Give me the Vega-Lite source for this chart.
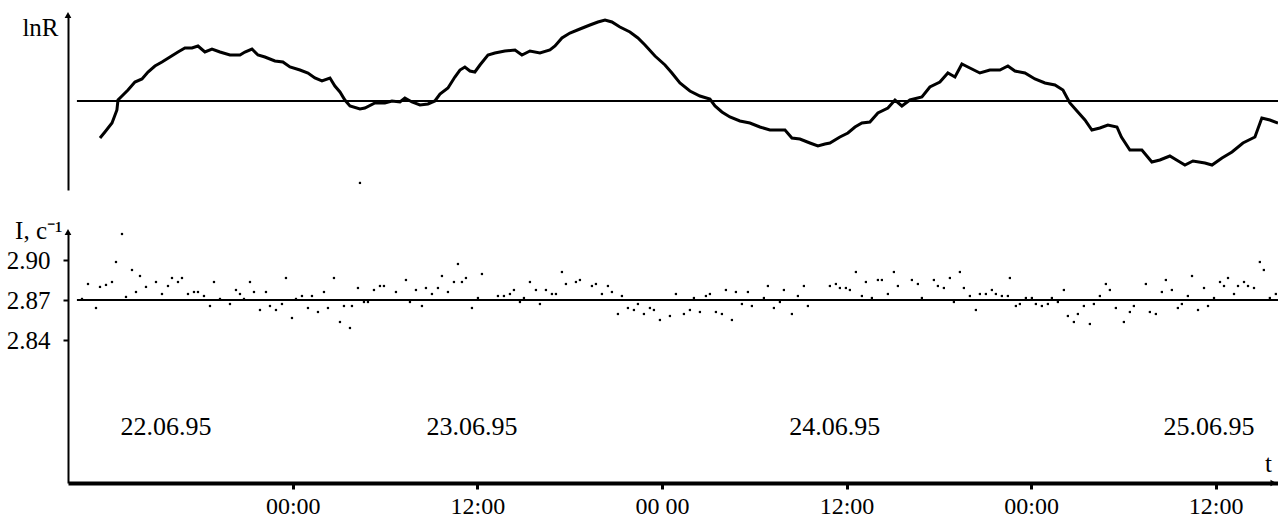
{
  "$schema": "https://vega.github.io/schema/vega-lite/v6.json",
  "background": "white",
  "autosize": {"type": "pad"},
  "padding": {"left": 6, "top": 12, "right": 0, "bottom": 0},
  "bounds": "flush",
  "spacing": 42,
  "config": {
    "view": {"stroke": null},
    "font": "Liberation Serif",
    "axis": {"domainColor": "black", "tickColor": "black", "labelColor": "black", "titleColor": "black", "labelFont": "Liberation Serif", "titleFont": "Liberation Serif", "grid": false, "titleFontWeight": "normal", "labelFlush": false}
  },
  "resolve": {"scale": {"x": "independent", "y": "independent"}},
  "datasets": {
    "lnr": [
      {"h": -12.53, "lnR": -0.37}, {"h": -12.21, "lnR": -0.31}, {"h": -11.75, "lnR": -0.22}, {"h": -11.43, "lnR": -0.09}, {"h": -11.36, "lnR": 0.01},
      {"h": -11.10, "lnR": 0.05}, {"h": -10.71, "lnR": 0.11}, {"h": -10.26, "lnR": 0.19}, {"h": -9.80, "lnR": 0.22}, {"h": -9.41, "lnR": 0.29},
      {"h": -8.96, "lnR": 0.35}, {"h": -8.50, "lnR": 0.39}, {"h": -7.98, "lnR": 0.44}, {"h": -7.46, "lnR": 0.49}, {"h": -7.01, "lnR": 0.53},
      {"h": -6.55, "lnR": 0.53}, {"h": -6.16, "lnR": 0.55}, {"h": -5.71, "lnR": 0.49}, {"h": -5.25, "lnR": 0.52}, {"h": -4.73, "lnR": 0.49},
      {"h": -4.08, "lnR": 0.46}, {"h": -3.43, "lnR": 0.46}, {"h": -3.11, "lnR": 0.49}, {"h": -2.65, "lnR": 0.52}, {"h": -2.26, "lnR": 0.46},
      {"h": -1.81, "lnR": 0.44}, {"h": -1.16, "lnR": 0.40}, {"h": -0.64, "lnR": 0.39}, {"h": -0.18, "lnR": 0.34}, {"h": 0.47, "lnR": 0.31},
      {"h": 0.99, "lnR": 0.28}, {"h": 1.44, "lnR": 0.23}, {"h": 1.90, "lnR": 0.20}, {"h": 2.42, "lnR": 0.23}, {"h": 2.74, "lnR": 0.15},
      {"h": 3.07, "lnR": 0.09}, {"h": 3.39, "lnR": 0.01}, {"h": 3.72, "lnR": -0.05}, {"h": 4.37, "lnR": -0.08}, {"h": 4.69, "lnR": -0.07},
      {"h": 5.34, "lnR": -0.02}, {"h": 5.99, "lnR": -0.02}, {"h": 6.45, "lnR": 0.00}, {"h": 6.97, "lnR": -0.01}, {"h": 7.29, "lnR": 0.03},
      {"h": 7.75, "lnR": -0.01}, {"h": 8.27, "lnR": -0.04}, {"h": 8.79, "lnR": -0.03}, {"h": 9.24, "lnR": 0.00}, {"h": 9.57, "lnR": 0.07},
      {"h": 10.09, "lnR": 0.13}, {"h": 10.54, "lnR": 0.24}, {"h": 10.87, "lnR": 0.31}, {"h": 11.19, "lnR": 0.34}, {"h": 11.52, "lnR": 0.30},
      {"h": 11.84, "lnR": 0.29}, {"h": 12.17, "lnR": 0.36}, {"h": 12.69, "lnR": 0.46}, {"h": 13.14, "lnR": 0.48}, {"h": 13.79, "lnR": 0.50},
      {"h": 14.45, "lnR": 0.51}, {"h": 14.90, "lnR": 0.46}, {"h": 15.42, "lnR": 0.50}, {"h": 16.07, "lnR": 0.48}, {"h": 16.72, "lnR": 0.51},
      {"h": 17.05, "lnR": 0.55}, {"h": 17.50, "lnR": 0.63}, {"h": 18.02, "lnR": 0.68}, {"h": 18.67, "lnR": 0.72}, {"h": 19.32, "lnR": 0.76},
      {"h": 19.84, "lnR": 0.79}, {"h": 20.30, "lnR": 0.81}, {"h": 20.75, "lnR": 0.79}, {"h": 21.27, "lnR": 0.74}, {"h": 21.92, "lnR": 0.69},
      {"h": 22.44, "lnR": 0.63}, {"h": 22.90, "lnR": 0.56}, {"h": 23.55, "lnR": 0.45}, {"h": 24.20, "lnR": 0.36}, {"h": 24.65, "lnR": 0.28},
      {"h": 25.17, "lnR": 0.18}, {"h": 25.82, "lnR": 0.10}, {"h": 26.47, "lnR": 0.05}, {"h": 27.12, "lnR": 0.02}, {"h": 27.45, "lnR": -0.05},
      {"h": 27.90, "lnR": -0.11}, {"h": 28.42, "lnR": -0.16}, {"h": 29.07, "lnR": -0.20}, {"h": 29.72, "lnR": -0.22}, {"h": 30.37, "lnR": -0.26},
      {"h": 31.02, "lnR": -0.29}, {"h": 32.00, "lnR": -0.29}, {"h": 32.45, "lnR": -0.37}, {"h": 32.97, "lnR": -0.38}, {"h": 33.62, "lnR": -0.42},
      {"h": 34.14, "lnR": -0.45}, {"h": 34.60, "lnR": -0.43}, {"h": 34.92, "lnR": -0.42}, {"h": 35.57, "lnR": -0.36}, {"h": 36.09, "lnR": -0.32},
      {"h": 36.55, "lnR": -0.26}, {"h": 37.00, "lnR": -0.22}, {"h": 37.52, "lnR": -0.21}, {"h": 38.04, "lnR": -0.12}, {"h": 38.69, "lnR": -0.07},
      {"h": 39.15, "lnR": 0.01}, {"h": 39.60, "lnR": -0.05}, {"h": 40.12, "lnR": 0.01}, {"h": 40.90, "lnR": 0.04}, {"h": 41.42, "lnR": 0.14},
      {"h": 42.07, "lnR": 0.19}, {"h": 42.59, "lnR": 0.28}, {"h": 43.05, "lnR": 0.24}, {"h": 43.50, "lnR": 0.37}, {"h": 44.02, "lnR": 0.33},
      {"h": 44.67, "lnR": 0.28}, {"h": 45.32, "lnR": 0.31}, {"h": 45.97, "lnR": 0.31}, {"h": 46.49, "lnR": 0.35}, {"h": 46.95, "lnR": 0.30},
      {"h": 47.60, "lnR": 0.28}, {"h": 48.25, "lnR": 0.22}, {"h": 48.90, "lnR": 0.18}, {"h": 49.55, "lnR": 0.16}, {"h": 50.07, "lnR": 0.11},
      {"h": 50.52, "lnR": -0.02}, {"h": 51.04, "lnR": -0.11}, {"h": 51.50, "lnR": -0.19}, {"h": 51.95, "lnR": -0.29}, {"h": 52.47, "lnR": -0.27},
      {"h": 52.99, "lnR": -0.24}, {"h": 53.58, "lnR": -0.26}, {"h": 53.87, "lnR": -0.36}, {"h": 54.42, "lnR": -0.49}, {"h": 55.20, "lnR": -0.49},
      {"h": 55.85, "lnR": -0.61}, {"h": 56.37, "lnR": -0.59}, {"h": 57.02, "lnR": -0.55}, {"h": 57.67, "lnR": -0.61}, {"h": 58.00, "lnR": -0.64},
      {"h": 58.52, "lnR": -0.60}, {"h": 59.30, "lnR": -0.62}, {"h": 59.76, "lnR": -0.64}, {"h": 60.41, "lnR": -0.57}, {"h": 61.06, "lnR": -0.51},
      {"h": 61.77, "lnR": -0.42}, {"h": 62.55, "lnR": -0.36}, {"h": 63.00, "lnR": -0.17}, {"h": 63.52, "lnR": -0.19}, {"h": 64.05, "lnR": -0.22}
    ],
    "intensity": [
      {"h": -13.70, "I": 2.8708}, {"h": -13.31, "I": 2.882}, {"h": -12.79, "I": 2.864}, {"h": -12.53, "I": 2.8798}, {"h": -12.14, "I": 2.8813},
      {"h": -11.75, "I": 2.8835}, {"h": -11.49, "I": 2.8985}, {"h": -11.10, "I": 2.9195}, {"h": -10.84, "I": 2.8723}, {"h": -10.45, "I": 2.8925},
      {"h": -10.19, "I": 2.876}, {"h": -9.93, "I": 2.888}, {"h": -9.54, "I": 2.8798}, {"h": -8.89, "I": 2.8835}, {"h": -8.50, "I": 2.8745},
      {"h": -8.11, "I": 2.8805}, {"h": -7.85, "I": 2.8865}, {"h": -7.46, "I": 2.8835}, {"h": -7.20, "I": 2.8865}, {"h": -6.81, "I": 2.8745},
      {"h": -6.42, "I": 2.876}, {"h": -6.16, "I": 2.876}, {"h": -5.77, "I": 2.873}, {"h": -5.38, "I": 2.8655}, {"h": -5.12, "I": 2.8835},
      {"h": -4.73, "I": 2.8708}, {"h": -4.08, "I": 2.867}, {"h": -3.69, "I": 2.8775}, {"h": -3.43, "I": 2.8745}, {"h": -3.17, "I": 2.8708},
      {"h": -2.78, "I": 2.8835}, {"h": -2.52, "I": 2.876}, {"h": -2.13, "I": 2.8625}, {"h": -1.74, "I": 2.876}, {"h": -1.48, "I": 2.8655},
      {"h": -1.09, "I": 2.8625}, {"h": -0.70, "I": 2.867}, {"h": -0.44, "I": 2.8865}, {"h": -0.05, "I": 2.8565}, {"h": 0.21, "I": 2.8708},
      {"h": 0.60, "I": 2.873}, {"h": 0.99, "I": 2.864}, {"h": 1.25, "I": 2.873}, {"h": 1.64, "I": 2.861}, {"h": 2.03, "I": 2.876},
      {"h": 2.29, "I": 2.864}, {"h": 2.68, "I": 2.8865}, {"h": 3.07, "I": 2.8535}, {"h": 3.33, "I": 2.8655}, {"h": 3.72, "I": 2.849},
      {"h": 3.85, "I": 2.8655}, {"h": 4.24, "I": 2.879}, {"h": 4.37, "I": 2.9578}, {"h": 4.63, "I": 2.8685}, {"h": 4.89, "I": 2.8685},
      {"h": 5.28, "I": 2.8775}, {"h": 5.67, "I": 2.8805}, {"h": 5.93, "I": 2.8805}, {"h": 6.71, "I": 2.876}, {"h": 7.36, "I": 2.885},
      {"h": 7.62, "I": 2.8685}, {"h": 8.01, "I": 2.8775}, {"h": 8.40, "I": 2.8655}, {"h": 8.66, "I": 2.879}, {"h": 9.05, "I": 2.8745},
      {"h": 9.44, "I": 2.879}, {"h": 9.70, "I": 2.888}, {"h": 10.09, "I": 2.876}, {"h": 10.48, "I": 2.8835}, {"h": 10.74, "I": 2.897},
      {"h": 11.00, "I": 2.8835}, {"h": 11.26, "I": 2.8865}, {"h": 11.65, "I": 2.864}, {"h": 12.04, "I": 2.8715}, {"h": 12.30, "I": 2.8895},
      {"h": 13.34, "I": 2.873}, {"h": 13.73, "I": 2.873}, {"h": 14.12, "I": 2.8745}, {"h": 14.38, "I": 2.8775}, {"h": 14.77, "I": 2.8685},
      {"h": 15.03, "I": 2.8715}, {"h": 15.42, "I": 2.8835}, {"h": 15.81, "I": 2.8775}, {"h": 16.07, "I": 2.867}, {"h": 16.46, "I": 2.8775},
      {"h": 16.85, "I": 2.8745}, {"h": 17.11, "I": 2.8745}, {"h": 17.50, "I": 2.891}, {"h": 17.76, "I": 2.882}, {"h": 18.41, "I": 2.8835},
      {"h": 18.67, "I": 2.885}, {"h": 19.45, "I": 2.8805}, {"h": 19.71, "I": 2.882}, {"h": 20.10, "I": 2.8745}, {"h": 20.49, "I": 2.8805},
      {"h": 20.75, "I": 2.876}, {"h": 21.14, "I": 2.8595}, {"h": 21.40, "I": 2.873}, {"h": 21.79, "I": 2.864}, {"h": 22.18, "I": 2.8625},
      {"h": 22.44, "I": 2.867}, {"h": 22.83, "I": 2.8595}, {"h": 23.22, "I": 2.864}, {"h": 23.48, "I": 2.8625}, {"h": 23.87, "I": 2.855},
      {"h": 24.52, "I": 2.858}, {"h": 24.91, "I": 2.8745}, {"h": 25.43, "I": 2.8595}, {"h": 25.82, "I": 2.8625}, {"h": 26.08, "I": 2.8715},
      {"h": 26.47, "I": 2.861}, {"h": 26.86, "I": 2.873}, {"h": 27.12, "I": 2.8745}, {"h": 27.51, "I": 2.861}, {"h": 27.90, "I": 2.8595},
      {"h": 28.16, "I": 2.8775}, {"h": 28.55, "I": 2.855}, {"h": 28.81, "I": 2.876}, {"h": 29.20, "I": 2.867}, {"h": 29.59, "I": 2.876},
      {"h": 29.85, "I": 2.8655}, {"h": 30.63, "I": 2.8715}, {"h": 30.89, "I": 2.8805}, {"h": 31.28, "I": 2.864}, {"h": 31.67, "I": 2.8685},
      {"h": 31.93, "I": 2.8775}, {"h": 32.45, "I": 2.8595}, {"h": 32.84, "I": 2.873}, {"h": 33.23, "I": 2.8805}, {"h": 33.49, "I": 2.8655},
      {"h": 34.92, "I": 2.8805}, {"h": 35.31, "I": 2.882}, {"h": 35.57, "I": 2.879}, {"h": 35.96, "I": 2.879}, {"h": 36.22, "I": 2.8775},
      {"h": 36.61, "I": 2.891}, {"h": 37.00, "I": 2.873}, {"h": 37.26, "I": 2.8835}, {"h": 37.65, "I": 2.8715}, {"h": 38.04, "I": 2.885},
      {"h": 38.30, "I": 2.885}, {"h": 38.69, "I": 2.8745}, {"h": 39.08, "I": 2.891}, {"h": 39.34, "I": 2.8805}, {"h": 40.25, "I": 2.885},
      {"h": 40.64, "I": 2.882}, {"h": 40.90, "I": 2.8715}, {"h": 41.68, "I": 2.885}, {"h": 41.94, "I": 2.8805}, {"h": 42.33, "I": 2.879},
      {"h": 42.72, "I": 2.8865}, {"h": 42.98, "I": 2.8685}, {"h": 43.37, "I": 2.891}, {"h": 43.63, "I": 2.879}, {"h": 44.02, "I": 2.873},
      {"h": 44.41, "I": 2.8625}, {"h": 44.67, "I": 2.8745}, {"h": 45.06, "I": 2.8745}, {"h": 45.45, "I": 2.8775}, {"h": 45.71, "I": 2.8745},
      {"h": 46.10, "I": 2.873}, {"h": 46.49, "I": 2.873}, {"h": 46.62, "I": 2.8865}, {"h": 47.01, "I": 2.8655}, {"h": 47.27, "I": 2.867},
      {"h": 47.66, "I": 2.8715}, {"h": 48.05, "I": 2.8715}, {"h": 48.31, "I": 2.867}, {"h": 48.70, "I": 2.8655}, {"h": 49.09, "I": 2.867},
      {"h": 49.35, "I": 2.8715}, {"h": 49.74, "I": 2.8685}, {"h": 50.13, "I": 2.8775}, {"h": 50.39, "I": 2.858}, {"h": 50.78, "I": 2.8535},
      {"h": 51.04, "I": 2.8595}, {"h": 51.43, "I": 2.8655}, {"h": 51.82, "I": 2.852}, {"h": 52.08, "I": 2.867}, {"h": 52.47, "I": 2.873},
      {"h": 52.86, "I": 2.882}, {"h": 53.12, "I": 2.8775}, {"h": 53.51, "I": 2.864}, {"h": 54.03, "I": 2.8535}, {"h": 54.42, "I": 2.861},
      {"h": 54.68, "I": 2.8655}, {"h": 55.46, "I": 2.882}, {"h": 55.72, "I": 2.861}, {"h": 56.11, "I": 2.8595}, {"h": 56.50, "I": 2.876},
      {"h": 56.76, "I": 2.885}, {"h": 57.15, "I": 2.8775}, {"h": 57.54, "I": 2.864}, {"h": 57.80, "I": 2.867}, {"h": 58.19, "I": 2.873},
      {"h": 58.46, "I": 2.888}, {"h": 58.85, "I": 2.8625}, {"h": 59.24, "I": 2.879}, {"h": 59.50, "I": 2.8655}, {"h": 59.89, "I": 2.8715},
      {"h": 60.28, "I": 2.8835}, {"h": 60.54, "I": 2.8805}, {"h": 60.80, "I": 2.8865}, {"h": 61.19, "I": 2.8745}, {"h": 61.45, "I": 2.8805},
      {"h": 61.84, "I": 2.8835}, {"h": 62.10, "I": 2.8805}, {"h": 62.49, "I": 2.879}, {"h": 62.87, "I": 2.8985}, {"h": 63.13, "I": 2.8925},
      {"h": 63.52, "I": 2.8715}, {"h": 63.91, "I": 2.8745}
    ],
    "dates": [
      {"h": -8.24, "label": "22.06.95"},
      {"h": 11.65, "label": "23.06.95"},
      {"h": 35.23, "label": "24.06.95"},
      {"h": 59.56, "label": "25.06.95"}
    ]
  },
  "vconcat": [
    {
      "width": 1210,
      "height": 175,
      "layer": [
        {
          "data": {"name": "lnr"},
          "mark": {"type": "line", "color": "black", "strokeWidth": 3, "interpolate": "linear"},
          "encoding": {
            "x": {"field": "h", "type": "quantitative", "scale": {"domain": [-14.61, 64.05], "nice": false, "zero": false}, "axis": null},
            "y": {"field": "lnR", "type": "quantitative", "scale": {"domain": [-0.89, 0.86], "nice": false, "zero": false},
                  "axis": {"title": "lnR", "domain": true, "domainWidth": 2, "ticks": false, "labels": false, "titleAngle": 0, "titleAlign": "right", "titleBaseline": "middle", "titleX": -10, "titleY": 12, "titleFontSize": 25}}
          }
        },
        {
          "data": {"values": [{"h": -14.03, "h2": 64.05, "lnR": 0}]},
          "mark": {"type": "rule", "color": "black", "strokeWidth": 2},
          "encoding": {
            "x": {"field": "h", "type": "quantitative"},
            "x2": {"field": "h2"},
            "y": {"field": "lnR", "type": "quantitative"}
          }
        },
        {
          "data": {"values": [{"h": -14.61, "lnR": 0.86}]},
          "mark": {"type": "point", "shape": "triangle-up", "filled": true, "color": "black", "size": 45, "opacity": 1},
          "encoding": {
            "x": {"field": "h", "type": "quantitative"},
            "y": {"field": "lnR", "type": "quantitative"}
          }
        }
      ]
    },
    {
      "width": 1210,
      "height": 251,
      "layer": [
        {
          "data": {"name": "intensity"},
          "mark": {"type": "point", "shape": "square", "filled": true, "color": "black", "size": 5, "opacity": 1},
          "encoding": {
            "x": {"field": "h", "type": "quantitative", "scale": {"domain": [-14.61, 64.05], "nice": false, "zero": false},
                  "axis": {"values": [0, 12, 24, 36, 48, 60], "labelExpr": "datum.value == 24 ? '00 00' : (datum.value % 24 == 0 ? '00:00' : '12:00')", "domainWidth": 4, "tickWidth": 3, "tickSize": 6, "labelFontSize": 24, "labelPadding": 5, "labelDx": 7, "title": "t", "titleAngle": 0, "titleAlign": "center", "titleBaseline": "middle", "titleX": 1200, "titleY": -20, "titleFontSize": 25}},
            "y": {"field": "I", "type": "quantitative", "scale": {"domain": [2.73275, 2.921], "nice": false, "zero": false},
                  "axis": {"values": [2.84, 2.87, 2.9], "format": ".2f", "domainWidth": 2, "tickWidth": 2, "tickSize": 5, "labelFontSize": 25, "labelPadding": 13, "title": "I, с⁻¹", "titleAngle": 0, "titleAlign": "right", "titleBaseline": "middle", "titleX": -6, "titleY": -2, "titleFontSize": 25}}
          }
        },
        {
          "data": {"values": [{"h": -14.03, "h2": 64.05, "I": 2.87}]},
          "mark": {"type": "rule", "color": "black", "strokeWidth": 2},
          "encoding": {
            "x": {"field": "h", "type": "quantitative"},
            "x2": {"field": "h2"},
            "y": {"field": "I", "type": "quantitative"}
          }
        },
        {
          "data": {"name": "dates"},
          "mark": {"type": "text", "font": "Liberation Serif", "fontSize": 26, "color": "black", "align": "center", "baseline": "middle"},
          "encoding": {
            "x": {"field": "h", "type": "quantitative"},
            "y": {"datum": 2.77475, "type": "quantitative"},
            "text": {"field": "label"}
          }
        },
        {
          "data": {"values": [{"h": -14.61, "I": 2.921, "shape": "up"}, {"h": 63.75, "I": 2.73275, "shape": "right"}]},
          "mark": {"type": "point", "filled": true, "color": "black", "size": 45, "opacity": 1},
          "encoding": {
            "x": {"field": "h", "type": "quantitative"},
            "y": {"field": "I", "type": "quantitative"},
            "shape": {"field": "shape", "type": "nominal", "scale": {"domain": ["up", "right"], "range": ["triangle-up", "triangle-right"]}, "legend": null}
          }
        }
      ]
    }
  ]
}
